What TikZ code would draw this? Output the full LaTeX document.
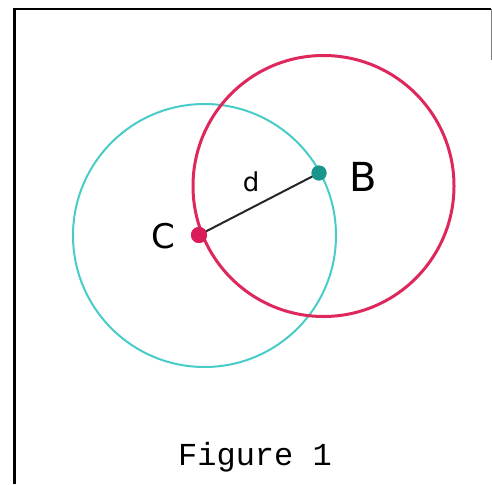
\documentclass[tikz,border=0pt]{standalone}
\usepackage{fontspec}
\newfontfamily\monofont{Liberation Mono}
\newfontfamily\handfont{DejaVu Sans}
\definecolor{cyanpen}{RGB}{72,204,200}
\definecolor{redpen}{RGB}{222,40,92}
\definecolor{tealdot}{RGB}{24,150,140}
\definecolor{reddot}{RGB}{218,28,88}
\tikzset{
  frameline/.style={line width=2.2pt, black},
  cyancirc/.style={draw=cyanpen, line width=2pt},
  redcirc/.style={draw=redpen, line width=3pt},
  dotnode/.style={circle, inner sep=0pt, minimum size=16pt},
  handlabel/.style={font=\handfont\fontsize{34}{34}\selectfont, inner sep=0pt},
}
\begin{document}
\begin{tikzpicture}[x=1pt,y=-1pt]
\useasboundingbox[fill=white] (0,0) rectangle (492,484);
% frame
\coordinate (fbl) at (14.5,484);
\coordinate (ftl) at (14.5,9);
\coordinate (ftr) at (491,9);
\coordinate (frb) at (491,60);
\draw[frameline] (fbl) -- (ftl) -- (ftr);
\draw[line width=1pt, black!50] (ftr) -- (frb);
% circles
\coordinate (cc) at (204.5,235.5);
\coordinate (rc) at (323.5,186);
\draw[cyancirc] (cc) circle[radius=131.5];
\draw[redcirc] (rc) circle[radius=130.5];
% segment
\node[dotnode, fill=reddot] (C) at (199,235) {};
\node[dotnode, minimum size=15pt, fill=tealdot] (B) at (319,173) {};
\draw[line width=2pt, black!85] (C.center) -- (B.center);
\node[dotnode, fill=reddot] at (C) {};
\node[dotnode, minimum size=15pt, fill=tealdot] at (B) {};
% labels
\node[handlabel] (Clab) at (163,236) {C};
\node[handlabel, font=\handfont\fontsize{40}{40}\selectfont] (Blab) at (363,177) {B};
\node[handlabel, font=\handfont\fontsize{26}{26}\selectfont] (dlab) at (251,182) {d};
\node[font=\monofont\fontsize{32}{32}\selectfont, inner sep=0pt] (cap) at (255,457) {Figure 1};
\end{tikzpicture}
\end{document}
